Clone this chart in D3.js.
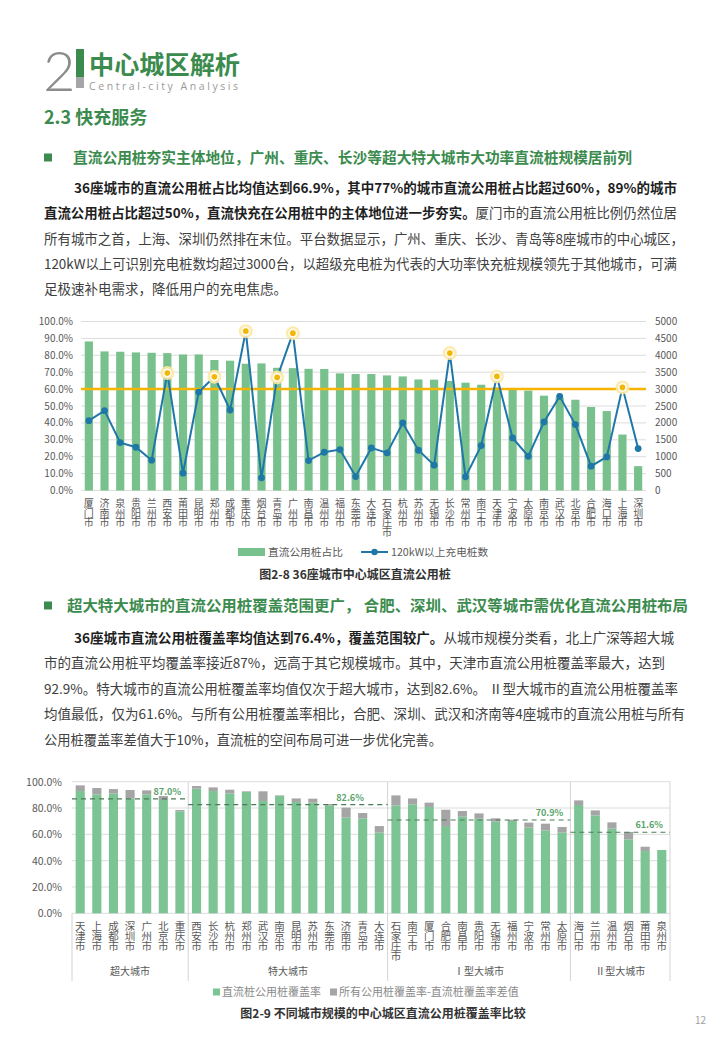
<!DOCTYPE html>
<html><head><meta charset="utf-8">
<script src="https://cdn.jsdelivr.net/npm/d3@7/dist/d3.min.js"></script>
<style>
html,body{margin:0;padding:0;background:#fff;}
svg{display:block;font-family:"Noto Sans CJK SC","Noto Sans",sans-serif;}
.vlabel{writing-mode:vertical-rl;text-orientation:upright;}
</style></head>
<body>
<svg id="page" width="720" height="1040"></svg>
<script>
// ---------- Chart 1 data ----------
const cities1 = ["厦门市","济南市","泉州市","贵阳市","兰州市","西安市","莆田市","昆明市","郑州市","成都市","重庆市","烟台市","青岛市","广州市","南昌市","温州市","福州市","东莞市","大连市","石家庄市","杭州市","苏州市","无锡市","长沙市","常州市","南宁市","天津市","宁波市","太原市","南京市","武汉市","北京市","合肥市","海口市","上海市","深圳市"];
const dcShare = [88.2,82.3,82.1,81.7,81.5,81.3,80.5,80.5,77.2,76.8,75.0,75.2,72.6,72.4,72.0,71.9,69.3,68.9,68.9,68.1,67.5,65.7,65.6,64.8,63.8,62.6,61.0,59.6,59.1,56.1,55.0,53.7,49.4,47.0,33.1,14.4];
const fastCount = [2067,2362,1417,1280,896,3474,512,2913,3366,2382,4715,374,3346,4656,886,1132,1211,413,1260,1112,1998,1191,748,4065,404,1329,3376,1555,1014,2028,2785,1949,719,994,3051,1240];
const leftTicks1 = [0,10,20,30,40,50,60,70,80,90,100];
const rightTicks1 = [0,500,1000,1500,2000,2500,3000,3500,4000,4500,5000];
const refShare = 60;
const legend1 = ["直流公用桩占比","120kW以上充电桩数"];
const title1 = "图2-8 36座城市中心城区直流公用桩";

// ---------- Chart 2 data ----------
const cities2 = ["天津市","上海市","成都市","深圳市","广州市","北京市","重庆市","西安市","长沙市","杭州市","郑州市","武汉市","南京市","昆明市","苏州市","东莞市","济南市","青岛市","大连市","石家庄市","南宁市","厦门市","合肥市","南昌市","贵阳市","无锡市","福州市","宁波市","常州市","太原市","海口市","兰州市","温州市","烟台市","莆田市","泉州市"];
const groupOf = [0,0,0,0,0,0,0,1,1,1,1,1,1,1,1,1,1,1,1,2,2,2,2,2,2,2,2,2,2,2,3,3,3,3,3,3];
const dcCoverage = [92.9,90.4,91.1,87.1,90.4,86.1,77.5,94.7,92.9,91.1,92.2,85.3,89.1,84.6,84.1,82.0,72.7,72.2,61.3,82.0,82.8,80.8,66.3,73.4,71.9,69.6,70.1,65.1,63.0,61.3,82.3,74.4,64.3,56.2,47.3,48.1];
const allCoverage = [97.2,95.2,94.4,93.7,93.4,89.1,78.5,96.7,95.7,93.9,92.7,92.7,89.6,87.3,87.1,83.0,80.3,76.2,66.3,89.6,87.3,84.1,78.7,77.7,75.9,72.2,71.1,68.9,68.1,65.6,85.8,78.2,69.1,61.8,50.6,48.1];
const groupNames = ["超大城市","特大城市","Ⅰ型大城市","Ⅱ型大城市"];
const groupAvg = [87.0,82.6,70.9,61.6];
const groupAvgLabelAt = ["北京市","济南市","常州市","莆田市"];
const ticks2 = [0,20,40,60,80,100];
const legend2 = ["直流桩公用桩覆盖率","所有公用桩覆盖率-直流桩覆盖率差值"];
const title2 = "图2-9 不同城市规模的中心城区直流公用桩覆盖率比较";

// ---------- page ----------
const svg = d3.select("#page");
const GREEN = "#3b8b4e";
const TXT = "#404040";
const AX = "#595959";

// header
svg.append("text").attr("x",43).attr("y",91).attr("font-family","Lato,'Open Sans',sans-serif").attr("font-weight",300)
  .attr("font-size",56).attr("fill","#8c8c8c").text("2");
svg.append("rect").attr("x",76).attr("y",49).attr("width",8).attr("height",28).attr("fill",GREEN);
svg.append("rect").attr("x",76).attr("y",77).attr("width",8).attr("height",11).attr("fill","#a6a6a6");
svg.append("text").attr("x",89).attr("y",74).attr("font-size",25).attr("font-weight",700).attr("fill",GREEN)
  .attr("textLength",151).attr("lengthAdjust","spacingAndGlyphs").text("中心城区解析");
svg.append("text").attr("x",89).attr("y",90).attr("font-size",10.5).attr("fill","#9a9a9a")
  .attr("font-family","'Open Sans',sans-serif").attr("textLength",149).attr("lengthAdjust","spacing").text("Central-city  Analysis");
svg.append("text").attr("x",44).attr("y",124).attr("font-size",18).attr("font-weight",700).attr("fill",GREEN).text("2.3 快充服务");

function heading(y, x, w, s){
  svg.append("rect").attr("x",44).attr("y",y-4.5).attr("width",8).attr("height",8).attr("fill",GREEN);
  svg.append("text").attr("x",x).attr("y",y+5).attr("font-size",15).attr("font-weight",700).attr("fill",GREEN)
    .attr("textLength",w).attr("lengthAdjust","spacingAndGlyphs").text(s);
}
function pline(x, y, segs, w){
  const t = svg.append("text").attr("x",x).attr("y",y+5).attr("font-size",13.5).attr("fill",TXT);
  if (w) t.attr("textLength",w).attr("lengthAdjust","spacingAndGlyphs");
  segs.forEach(s=>{
    t.append("tspan").attr("font-weight",s[1]?700:400).attr("fill",s[1]?"#1e1e1e":TXT).text(s[0]);
  });
}
heading(158, 73, 559, "直流公用桩夯实主体地位，广州、重庆、长沙等超大特大城市大功率直流桩规模居前列");
pline(74,188,[["36座城市的直流公用桩占比均值达到66.9%，其中77%的城市直流公用桩占比超过60%，89%的城市",1]],603);
pline(44,213,[["直流公用桩占比超过50%，直流快充在公用桩中的主体地位进一步夯实。",1],["厦门市的直流公用桩比例仍然位居",0]],633);
pline(44,239,[["所有城市之首，上海、深圳仍然排在末位。平台数据显示，广州、重庆、长沙、青岛等8座城市的中心城区，",0]],640);
pline(44,264,[["120kW以上可识别充电桩数均超过3000台，以超级充电桩为代表的大功率快充桩规模领先于其他城市，可满",0]],633);
pline(44,289,[["足极速补电需求，降低用户的充电焦虑。",0]],null);

heading(606, 67, 621, "超大特大城市的直流公用桩覆盖范围更广， 合肥、深圳、武汉等城市需优化直流公用桩布局");
pline(74,638,[["36座城市直流公用桩覆盖率均值达到76.4%，覆盖范围较广。",1],["从城市规模分类看，北上广深等超大城",0]],600);
pline(44,663,[["市的直流公用桩平均覆盖率接近87%，远高于其它规模城市。其中，天津市直流公用桩覆盖率最大，达到",0]],621);
pline(44,689,[["92.9%。特大城市的直流公用桩覆盖率均值仅次于超大城市，达到82.6%。 Ⅱ型大城市的直流公用桩覆盖率",0]],634);
pline(44,714,[["均值最低，仅为61.6%。与所有公用桩覆盖率相比，合肥、深圳、武汉和济南等4座城市的直流公用桩与所有",0]],641);
pline(44,740,[["公用桩覆盖率差值大于10%，直流桩的空间布局可进一步优化完善。",0]],398);

svg.append("text").attr("x",706).attr("y",1024).attr("text-anchor","end").attr("font-size",10).attr("fill","#a0a0a0").text("12");

function vlabel(g, cx, top, s, fs, gap){
  g.append("text").attr("class","vlabel").attr("x",cx).attr("y",top)
    .attr("font-size",fs).attr("letter-spacing",gap).attr("fill",AX).text(s);
}

// ---------- Chart 1 ----------
(function(){
  const g = svg.append("g");
  const x = d3.scaleBand().domain(cities1).range([81,646]).paddingInner(0.48).paddingOuter(0.24);
  const yL = d3.scaleLinear().domain([0,100]).range([490.5,321.5]);
  const yR = d3.scaleLinear().domain([0,5000]).range([490.5,321.5]);
  g.selectAll(".gl").data(leftTicks1).join("line").attr("x1",81).attr("x2",646)
    .attr("y1",d=>yL(d)).attr("y2",d=>yL(d)).attr("stroke","#dcdcdc").attr("stroke-width",1);
  g.selectAll(".lt").data(leftTicks1).join("text").attr("x",73).attr("y",d=>yL(d)+3.5)
    .attr("text-anchor","end").attr("font-size",10).attr("fill",AX).text(d=>d.toFixed(1)+"%");
  g.selectAll(".rt").data(rightTicks1).join("text").attr("x",655).attr("y",d=>yR(d)+3.5)
    .attr("font-size",10).attr("fill",AX).text(d=>d);
  g.selectAll(".bar").data(cities1).join("rect").attr("x",d=>x(d)).attr("width",x.bandwidth())
    .attr("y",(d,i)=>yL(dcShare[i])).attr("height",(d,i)=>yL(0)-yL(dcShare[i])).attr("fill","#78c08c");
  g.append("line").attr("x1",81).attr("x2",646).attr("y1",yL(refShare)).attr("y2",yL(refShare))
    .attr("stroke","#f6b400").attr("stroke-width",2.5);
  const cx = d=>x(d)+x.bandwidth()/2;
  const line = d3.line().x((d,i)=>cx(cities1[i])).y(d=>yR(d));
  g.append("path").datum(fastCount).attr("d",line).attr("fill","none").attr("stroke","#1f77a8").attr("stroke-width",2);
  g.selectAll(".pt").data(fastCount).join("circle").attr("cx",(d,i)=>cx(cities1[i])).attr("cy",d=>yR(d))
    .attr("r",3.4).attr("fill","#1f77a8");
  const hi = fastCount.map((v,i)=>({v,i})).filter(o=>o.v>3000);
  hi.forEach(o=>{
    const px = cx(cities1[o.i]), py = yR(o.v);
    g.append("circle").attr("cx",px).attr("cy",py).attr("r",7).attr("fill","#fde8a3").attr("opacity",0.9);
    g.append("circle").attr("cx",px).attr("cy",py).attr("r",4.6).attr("fill","#fffaf0");
    g.append("circle").attr("cx",px).attr("cy",py).attr("r",2.8).attr("fill","#f0b705");
  });
  cities1.forEach(c=> vlabel(g, cx(c), 498, c, 10, -0.3));
  // legend
  g.append("rect").attr("x",238).attr("y",548).attr("width",27).attr("height",8).attr("fill","#78c08c");
  g.append("text").attr("x",268).attr("y",556).attr("font-size",10.7).attr("fill",AX).text(legend1[0]);
  g.append("line").attr("x1",361).attr("x2",388).attr("y1",552).attr("y2",552).attr("stroke","#1f77a8").attr("stroke-width",2);
  g.append("circle").attr("cx",374.5).attr("cy",552).attr("r",3.2).attr("fill","#1f77a8");
  g.append("text").attr("x",391).attr("y",556).attr("font-size",10.7).attr("fill",AX).text(legend1[1]);
  g.append("text").attr("x",355).attr("y",579).attr("text-anchor","middle").attr("font-size",12).attr("font-weight",700)
    .attr("fill","#333").text(title1);
})();

// ---------- Chart 2 ----------
(function(){
  const g = svg.append("g");
  const x = d3.scaleBand().domain(cities2).range([72,670]).paddingInner(0.45).paddingOuter(0.22);
  const y = d3.scaleLinear().domain([0,100]).range([913.3,781.7]);
  g.selectAll(".gl").data(ticks2).join("line").attr("x1",72).attr("x2",670)
    .attr("y1",d=>y(d)).attr("y2",d=>y(d)).attr("stroke","#dcdcdc");
  g.selectAll(".lt").data(ticks2).join("text").attr("x",62).attr("y",d=>y(d)+4)
    .attr("text-anchor","end").attr("font-size",10.5).attr("fill",AX).text(d=>d.toFixed(1)+"%");
  const cx = d=>x(d)+x.bandwidth()/2;
  g.selectAll(".b1").data(cities2).join("rect").attr("x",d=>x(d)).attr("width",x.bandwidth())
    .attr("y",(d,i)=>y(dcCoverage[i])).attr("height",(d,i)=>y(0)-y(dcCoverage[i])).attr("fill","#7dc494");
  g.selectAll(".b2").data(cities2).join("rect").attr("x",d=>x(d)).attr("width",x.bandwidth())
    .attr("y",(d,i)=>y(allCoverage[i])).attr("height",(d,i)=>Math.max(0,y(dcCoverage[i])-y(allCoverage[i]))).attr("fill","#a5a5a5");
  const step = x.step();
  const groupIdx = groupNames.map((n,gi)=>{
    const idx = groupOf.map((v,i)=>v===gi?i:-1).filter(i=>i>=0);
    return {gi, first: idx[0], last: idx[idx.length-1]};
  });
  const bx = i => x(cities2[i]) - x.paddingInner()*step/2;
  const ex = i => x(cities2[i]) + x.bandwidth() + x.paddingInner()*step/2;
  groupIdx.forEach(o=>{
    const x0 = o.gi===0 ? 72 : bx(o.first);
    const x1 = o.gi===groupNames.length-1 ? 670 : ex(o.last);
    if (o.gi===0) g.append("line").attr("x1",72).attr("x2",72).attr("y1",y(0)).attr("y2",981).attr("stroke","#d4d4d4");
    g.append("line").attr("x1",x1).attr("x2",x1).attr("y1",y(100)).attr("y2",981).attr("stroke","#d4d4d4");
    g.append("text").attr("x",(x0+x1)/2).attr("y",975).attr("text-anchor","middle").attr("font-size",10).attr("fill",AX).text(groupNames[o.gi]);
    g.append("line").attr("x1",x0).attr("x2",x1).attr("y1",y(groupAvg[o.gi])).attr("y2",y(groupAvg[o.gi]))
      .attr("stroke","#4a7d57").attr("stroke-width",1.2).attr("stroke-dasharray","5,4");
    g.append("text").attr("x",cx(groupAvgLabelAt[o.gi])+4).attr("y",y(groupAvg[o.gi])-4).attr("text-anchor","middle")
      .attr("font-size",9).attr("font-weight",700).attr("fill","#5aa46b").text(groupAvg[o.gi].toFixed(1)+"%");
  });
  cities2.forEach(c=> vlabel(g, cx(c), 920.5, c, 10.5, -0.5));
  // legend
  g.append("rect").attr("x",213).attr("y",988.5).attr("width",7).attr("height",7).attr("fill","#7dc494");
  g.append("text").attr("x",222).attr("y",996).attr("font-size",11).attr("fill","#8a8a8a").text(legend2[0]);
  g.append("rect").attr("x",330).attr("y",988.5).attr("width",7).attr("height",7).attr("fill","#a5a5a5");
  g.append("text").attr("x",339).attr("y",996).attr("font-size",11).attr("fill","#8a8a8a").text(legend2[1]);
  g.append("text").attr("x",383).attr("y",1018).attr("text-anchor","middle").attr("font-size",12).attr("font-weight",700)
    .attr("fill","#333").text(title2);
})();
</script>
</body></html>
